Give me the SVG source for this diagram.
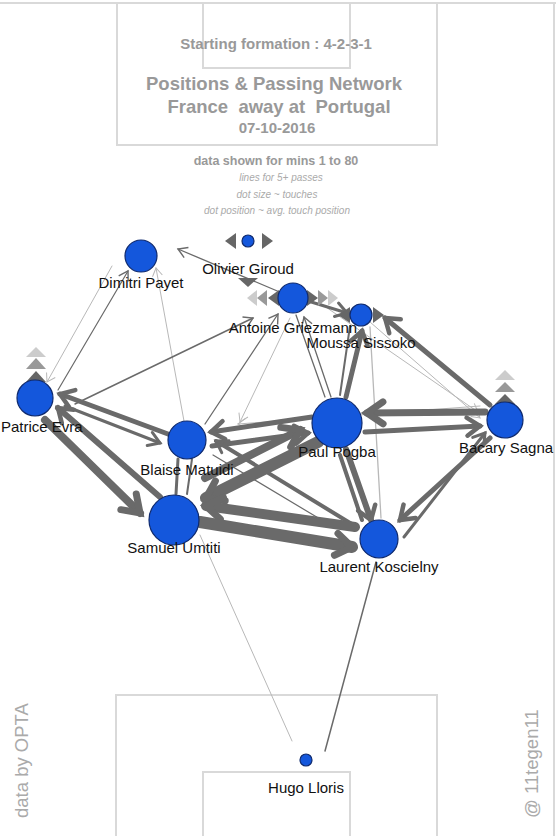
<svg xmlns="http://www.w3.org/2000/svg" width="556" height="836" viewBox="0 0 556 836">
<style>
.pitch{fill:none;stroke:#d9d9d9;stroke-width:2}
.d{stroke:#6a6a6a;fill:none;stroke-linecap:round}
.l{stroke:#b8b8b8;fill:none;stroke-linecap:round}
.node{fill:#1457dc;stroke:#0f2a6e;stroke-width:1.2}
.lab{font-family:"Liberation Sans",Arial,sans-serif;font-size:15px;fill:#111;text-anchor:middle}
.title{font-family:"Liberation Sans",Arial,sans-serif;font-weight:bold;fill:#999;text-anchor:middle}
.sub{font-family:"Liberation Sans",Arial,sans-serif;font-style:italic;font-size:10px;fill:#aaa;text-anchor:middle}
.side{font-family:"Liberation Sans",Arial,sans-serif;font-size:18.5px;fill:#aaa}
.tD{fill:#666}.tM{fill:#999}.tL{fill:#ccc}
</style>
<defs>
<marker id="mtl" markerUnits="userSpaceOnUse" markerWidth="30" markerHeight="30" refX="0" refY="0" orient="auto" overflow="visible"><path d="M-8,-5 L0,0 L-8,5" fill="none" stroke="#b8b8b8" stroke-width="1"/></marker>
<marker id="mtd" markerUnits="userSpaceOnUse" markerWidth="30" markerHeight="30" refX="0" refY="0" orient="auto" overflow="visible"><path d="M-9,-5.5 L0,0 L-9,5.5" fill="none" stroke="#6a6a6a" stroke-width="1.4"/></marker>
<marker id="mm" markerUnits="userSpaceOnUse" markerWidth="30" markerHeight="30" refX="0" refY="0" orient="auto" overflow="visible"><path d="M-11,-7 L0,0 L-11,7" fill="none" stroke="#6a6a6a" stroke-width="3" stroke-linecap="round"/></marker>
<marker id="mk" markerUnits="userSpaceOnUse" markerWidth="40" markerHeight="40" refX="0" refY="0" orient="auto" overflow="visible"><path d="M-13,-9 L0,0 L-13,9" fill="none" stroke="#6a6a6a" stroke-width="4.5" stroke-linecap="round"/></marker>
<marker id="mh" markerUnits="userSpaceOnUse" markerWidth="50" markerHeight="50" refX="0" refY="0" orient="auto" overflow="visible"><path d="M-16,-11 L0,0 L-16,11" fill="none" stroke="#6a6a6a" stroke-width="7" stroke-linecap="round"/></marker>
</defs>
<rect width="556" height="836" fill="#fff"/>
<g id="pitch">
<line class="pitch" x1="0" y1="3" x2="556" y2="3"/>
<line class="pitch" x1="554" y1="3" x2="554" y2="836"/>
<polyline class="pitch" points="117,3 117,145 437,145 437,3"/>
<polyline class="pitch" points="203,3 203,68 350,68 350,3"/>
<polyline class="pitch" points="116,836 116,695 437,695 437,836"/>
<polyline class="pitch" points="203,836 203,772 350,772 350,836"/>
</g>
<g id="header">
<text class="title" x="276" y="49" font-size="15">Starting formation : 4-2-3-1</text>
<text class="title" x="274" y="90" font-size="18.5">Positions &amp; Passing Network</text>
<text class="title" x="279" y="113" font-size="18.5" xml:space="preserve">France  away at  Portugal</text>
<text class="title" x="277" y="133" font-size="15">07-10-2016</text>
<text class="title" x="276" y="165" font-size="12.5">data shown for mins 1 to 80</text>
<text class="sub" x="281" y="181">lines for 5+ passes</text>
<text class="sub" x="277" y="198">dot size ~ touches</text>
<text class="sub" x="277" y="214">dot position ~ avg. touch position</text>
</g>
<g id="connectors">
<line class="l" x1="200" y1="535" x2="292" y2="741" stroke-width="1"/>
<line class="d" x1="325" y1="751" x2="376" y2="562" stroke-width="1.5" stroke="#555"/>
<line class="l" x1="112" y1="266" x2="47" y2="382" stroke-width="1" marker-end="url(#mtl)"/>
<line class="l" x1="184" y1="421" x2="156" y2="268" stroke-width="1" marker-end="url(#mtl)"/>
<line class="l" x1="290" y1="318" x2="240" y2="422" stroke-width="1" marker-end="url(#mtl)"/>
<line class="l" x1="480" y1="406" x2="238" y2="424" stroke-width="1" marker-end="url(#mtl)"/>
<line class="l" x1="370" y1="322" x2="480" y2="418" stroke-width="1" marker-end="url(#mtl)"/>
<line class="l" x1="320" y1="303" x2="478" y2="412" stroke-width="1" marker-end="url(#mtl)"/>
<line class="l" x1="370" y1="327" x2="381" y2="518" stroke-width="1.3" stroke="#999"/>
<line class="d" x1="282" y1="293" x2="178" y2="249" stroke-width="1.3" marker-end="url(#mtd)"/>
<line class="d" x1="58" y1="390" x2="128" y2="271" stroke-width="1.2" marker-end="url(#mtd)"/>
<line class="d" x1="75" y1="404" x2="253" y2="318" stroke-width="1.5" marker-end="url(#mtd)"/>
<line class="d" x1="205" y1="424" x2="278" y2="314" stroke-width="1.3" marker-end="url(#mtd)"/>
<line class="d" x1="296" y1="315" x2="325" y2="397" stroke-width="1.3"/>
<line class="d" x1="331" y1="397" x2="304" y2="317" stroke-width="1.3" marker-end="url(#mtd)"/>
<line class="d" x1="213" y1="455" x2="330" y2="525" stroke-width="1.2"/>
<line class="d" x1="350" y1="326" x2="340" y2="395" stroke-width="2"/>
<line class="d" x1="308" y1="301" x2="347" y2="313" stroke-width="3" marker-end="url(#mm)"/>
<line class="d" x1="168" y1="434" x2="60" y2="394" stroke-width="5" marker-end="url(#mk)"/>
<line class="d" x1="65" y1="406" x2="160" y2="443" stroke-width="3" marker-end="url(#mm)"/>
<line class="d" x1="160" y1="497" x2="58" y2="408" stroke-width="6" marker-end="url(#mk)"/>
<line class="d" x1="45" y1="420" x2="140" y2="513" stroke-width="8" marker-end="url(#mh)"/>
<line class="d" x1="178" y1="459" x2="176" y2="494" stroke-width="3"/>
<line class="d" x1="192" y1="459" x2="187" y2="494" stroke-width="2"/>
<line class="d" x1="312" y1="417" x2="211" y2="432" stroke-width="5" marker-end="url(#mk)"/>
<line class="d" x1="212" y1="446" x2="308" y2="433" stroke-width="5" marker-end="url(#mk)"/>
<line class="d" x1="355" y1="526" x2="216" y2="441" stroke-width="4" marker-end="url(#mm)"/>
<line class="d" x1="205" y1="478" x2="300" y2="430" stroke-width="8" marker-end="url(#mh)"/>
<line class="d" x1="318" y1="442" x2="206" y2="498" stroke-width="12" marker-end="url(#mh)"/>
<line class="d" x1="355" y1="527" x2="206" y2="506" stroke-width="10" marker-end="url(#mh)"/>
<line class="d" x1="200" y1="522" x2="352" y2="547" stroke-width="12" marker-end="url(#mh)"/>
<line class="d" x1="346" y1="449" x2="371" y2="520" stroke-width="6" marker-end="url(#mk)"/>
<line class="d" x1="362" y1="520" x2="340" y2="455" stroke-width="4"/>
<line class="d" x1="490" y1="438" x2="400" y2="520" stroke-width="5" marker-end="url(#mk)"/>
<line class="d" x1="404" y1="537" x2="485" y2="433" stroke-width="3" marker-end="url(#mm)"/>
<line class="d" x1="485" y1="412" x2="367" y2="413" stroke-width="7" marker-end="url(#mh)"/>
<line class="d" x1="365" y1="432" x2="480" y2="426" stroke-width="5" marker-end="url(#mk)"/>
<line class="d" x1="490" y1="405" x2="385" y2="318" stroke-width="5" marker-end="url(#mk)"/>
<line class="d" x1="346" y1="397" x2="362" y2="331" stroke-width="5" marker-end="url(#mk)"/>
</g>
<g id="indicators">
<polygon class="tD" points="225,241 236,233 236,249"/>
<polygon class="tD" points="262,233 262,249 273,241"/>
<polygon class="tD" points="238,278 258,278 248,287"/>
<polygon class="tL" points="247,298 257,290 257,306"/>
<polygon class="tM" points="257,298 267,290 267,306"/>
<polygon class="tD" points="268,298 279,290 279,306"/>
<polygon class="tD" points="307,290 307,306 318,298"/>
<polygon class="tM" points="318,290 318,306 328,298"/>
<polygon class="tL" points="328,290 328,306 338,298"/>
<polygon class="tD" points="338,315 350,307 350,323"/>
<polygon class="tD" points="373,307 373,323 384,315"/>
<polygon class="tL" points="26,357 36,347 46,357"/>
<polygon class="tM" points="26,369 36,358 46,369"/>
<polygon class="tD" points="26,382 36,371 46,382"/>
<polygon class="tL" points="495,380 505,370 515,380"/>
<polygon class="tM" points="495,392 505,382 515,392"/>
<polygon class="tD" points="495,404 505,394 515,404"/>
</g>
<g id="giroud"><circle class="node" cx="248" cy="241" r="6"/><text class="lab" x="248" y="274">Olivier Giroud</text></g>
<g id="payet"><circle class="node" cx="141" cy="256" r="16"/><text class="lab" x="141" y="288">Dimitri Payet</text></g>
<g id="griezmann"><circle class="node" cx="293" cy="298" r="15"/><text class="lab" x="293" y="333">Antoine Griezmann</text></g>
<g id="sissoko"><circle class="node" cx="361" cy="315" r="11"/><text class="lab" x="361" y="348">Moussa Sissoko</text></g>
<g id="evra"><circle class="node" cx="35" cy="398" r="18"/><text class="lab" x="1" y="432" text-anchor="start" style="text-anchor:start">Patrice Evra</text></g>
<g id="matuidi"><circle class="node" cx="187" cy="440" r="19"/><text class="lab" x="187" y="475">Blaise Matuidi</text></g>
<g id="pogba"><circle class="node" cx="337" cy="423" r="25"/><text class="lab" x="337" y="457">Paul Pogba</text></g>
<g id="sagna"><circle class="node" cx="505" cy="420" r="18"/><text class="lab" x="506" y="453">Bacary Sagna</text></g>
<g id="umtiti"><circle class="node" cx="174" cy="520" r="25"/><text class="lab" x="174" y="553">Samuel Umtiti</text></g>
<g id="koscielny"><circle class="node" cx="379" cy="539" r="19"/><text class="lab" x="379" y="572">Laurent Koscielny</text></g>
<g id="lloris"><circle class="node" cx="306" cy="760" r="6"/><text class="lab" x="306" y="793">Hugo Lloris</text></g>
<g id="credits">
<text class="side" transform="translate(28,818) rotate(-90)">data by OPTA</text>
<text class="side" transform="translate(538,818) rotate(-90)">@ 11tegen11</text>
</g>
</svg>
